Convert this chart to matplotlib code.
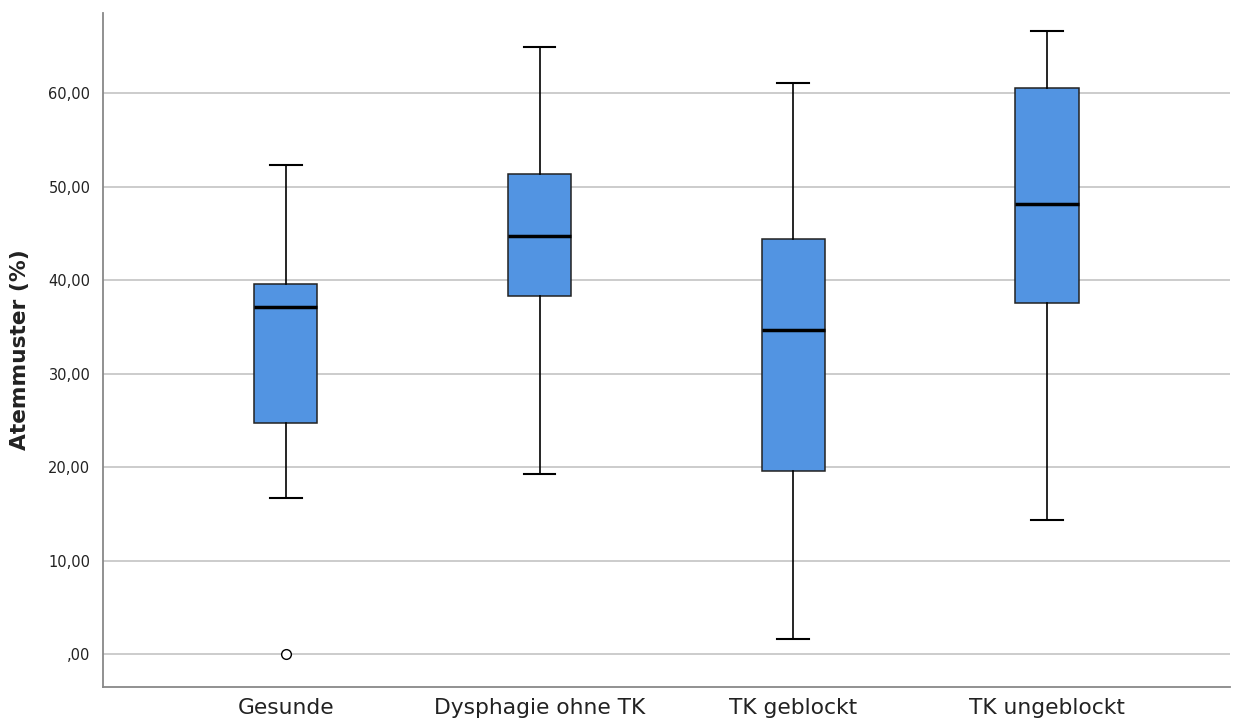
import matplotlib
matplotlib.use("Agg")
from matplotlib import pyplot as plt

# Werte
groups = ["Gesunde", "Dysphagie ohne TK", "TK geblockt", "TK ungeblockt"]
whisker_low = [16.7, 19.25, 1.6, 14.3]
q1 = [24.7, 38.3, 19.6, 37.5]
median = [37.1, 44.7, 34.65, 48.1]
q3 = [39.6, 51.3, 44.4, 60.5]
whisker_high = [52.3, 64.9, 61.1, 66.6]
outliers = [[0.0], [], [], []]
yticks = [0, 10, 20, 30, 40, 50, 60]


def fmt(v):
    s = "%.2f" % v
    s = s.replace(".", ",")
    if s.startswith("0"):
        s = s[1:]
    return s


stats = []
for i in range(len(groups)):
    stats.append({
        "label": groups[i],
        "whislo": whisker_low[i],
        "q1": q1[i],
        "med": median[i],
        "q3": q3[i],
        "whishi": whisker_high[i],
        "fliers": outliers[i],
    })

fig = plt.figure(figsize=(12.33, 7.25), dpi=100)
ax = fig.add_axes([0.0835, 0.0524, 0.914, 0.9296])

ax.bxp(stats, positions=range(len(groups)), widths=0.25, patch_artist=True,
       boxprops=dict(facecolor="#5294e2", edgecolor="#222222", linewidth=1.1),
       medianprops=dict(color="black", linewidth=2.5),
       whiskerprops=dict(color="black", linewidth=1.2),
       capprops=dict(color="black", linewidth=1.5),
       capwidths=0.125,
       flierprops=dict(marker="o", markerfacecolor="white", markeredgecolor="black",
                       markersize=7, markeredgewidth=1.0),
       zorder=3)

ax.set_xlim(-0.72, 3.72)
ax.set_ylim(-3.53, 68.56)
ax.set_yticks(yticks)
ax.set_yticklabels([fmt(v) for v in yticks], fontsize=10.5, color="#222222")
ax.set_xticks(range(len(groups)))
ax.set_xticklabels(groups, fontsize=15.7, color="#222222")
ax.tick_params(axis="x", length=0, pad=8)
ax.tick_params(axis="y", length=0, pad=9)

ax.yaxis.grid(True, color="#c8c8c8", linewidth=1.3, zorder=0)
ax.set_axisbelow(True)
for s in ["top", "right"]:
    ax.spines[s].set_visible(False)
for s in ["left", "bottom"]:
    ax.spines[s].set_color("#888888")
    ax.spines[s].set_linewidth(1.3)

ax.set_ylabel("Atemmuster (%)", fontsize=15.7, fontweight="bold", color="#222222", labelpad=13)

fig.savefig("out.png", dpi=100)
